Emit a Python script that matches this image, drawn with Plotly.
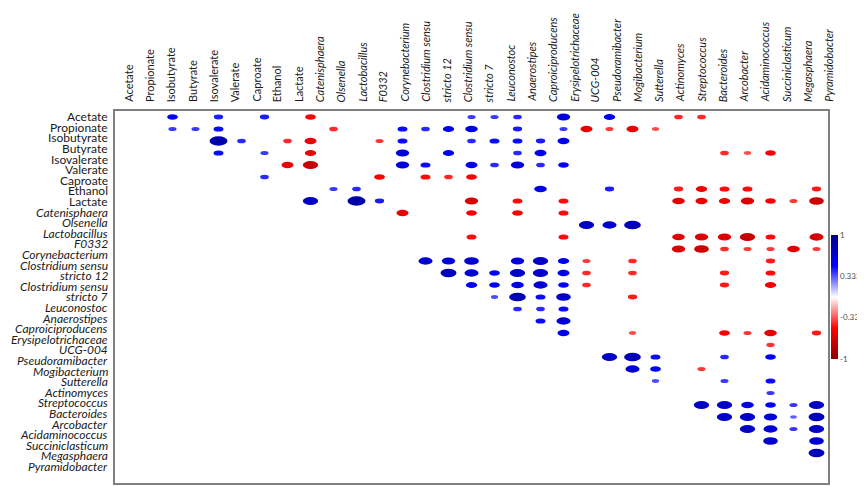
import plotly.graph_objects as go
from plotly.colors import sample_colorscale

# ---------------- data ----------------
variables = ["Acetate", "Propionate", "Isobutyrate", "Butyrate", "Isovalerate", "Valerate",
             "Caproate", "Ethanol", "Lactate", "Catenisphaera", "Olsenella", "Lactobacillus",
             "F0332", "Corynebacterium", "Clostridium sensu stricto 12",
             "Clostridium sensu stricto 7", "Leuconostoc", "Anaerostipes", "Caproiciproducens",
             "Erysipelotrichaceae UCG-004", "Pseudoramibacter", "Mogibacterium", "Sutterella",
             "Actinomyces", "Streptococcus", "Bacteroides", "Arcobacter", "Acidaminococcus",
             "Succiniclasticum", "Megasphaera", "Pyramidobacter"]

# axis labels as printed in the figure (split names occupy two slots)
axis_labels = ["Acetate", "Propionate", "Isobutyrate", "Butyrate", "Isovalerate", "Valerate",
               "Caproate", "Ethanol", "Lactate", "Catenisphaera", "Olsenella", "Lactobacillus",
               "F0332", "Corynebacterium", "Clostridium sensu", "stricto 12", "Clostridium sensu",
               "stricto 7", "Leuconostoc", "Anaerostipes", "Caproiciproducens",
               "Erysipelotrichaceae", "UCG-004", "Pseudoramibacter", "Mogibacterium",
               "Sutterella", "Actinomyces", "Streptococcus", "Bacteroides", "Arcobacter",
               "Acidaminococcus", "Succiniclasticum", "Megasphaera", "Pyramidobacter"]
n_plain_labels = 9  # metabolites are upright, taxa italic

# significant correlations: row variable index, column variable index, r
corr_row = ([0]*11 + [1]*14 + [2]*11 + [3]*10 + [4]*9 + [5]*5 + [6]*9 + [7]*13 + [8]*4 +
            [9]*3 + [10]*8 + [11]*7 + [12]*9 + [13]*10 + [14]*8 + [15]*5 + [16]*3 + [17]*2 +
            [18]*6 + [19]*1 + [20]*5 + [21]*3 + [22]*3 + [23]*1 + [24]*6 + [25]*5 + [26]*4 +
            [27]*2 + [28]*1)
corr_col = [2, 4, 6, 8, 15, 16, 17, 19, 21, 24, 25,
            2, 3, 4, 9, 12, 13, 14, 15, 17, 19, 20, 21, 22, 23,
            4, 5, 7, 8, 11, 12, 15, 16, 17, 18, 19,
            4, 6, 8, 12, 14, 17, 18, 26, 27, 28,
            7, 8, 12, 13, 15, 16, 17, 18, 19,
            6, 11, 13, 14, 15,
            9, 10, 18, 21, 24, 25, 26, 27, 30,
            8, 10, 11, 15, 17, 19, 24, 25, 26, 27, 28, 29, 30,
            12, 15, 17, 19,
            20, 21, 22,
            15, 19, 24, 25, 26, 27, 28, 30,
            24, 25, 26, 27, 28, 29, 30,
            13, 14, 15, 17, 18, 19, 20, 22, 28,
            14, 15, 16, 17, 18, 19, 20, 22, 26, 28,
            15, 16, 17, 18, 19, 20, 26, 28,
            16, 17, 18, 19, 22,
            17, 18, 19,
            18, 19,
            19, 22, 26, 27, 28, 30,
            28,
            21, 22, 23, 26, 28,
            22, 23, 25,
            23, 26, 28,
            28,
            25, 26, 27, 28, 29, 30,
            26, 27, 28, 29, 30,
            27, 28, 29, 30,
            28, 30,
            30]
corr_val = [0.52, 0.45, 0.45, -0.52, 0.39, 0.39, 0.42, 0.65, 0.55, -0.42, -0.42,
            0.39, 0.39, 0.48, -0.42, 0.48, 0.42, 0.55, 0.61, 0.45, 0.39, -0.58, -0.39, -0.58, -0.35,
            0.87, 0.42, -0.42, -0.58, -0.39, 0.48, 0.42, 0.48, 0.48, 0.45, 0.58,
            0.48, 0.39, -0.55, 0.65, 0.55, 0.42, 0.58, -0.42, -0.35, -0.52,
            -0.58, -0.74, 0.65, 0.48, 0.58, 0.42, 0.65, 0.42, 0.52,
            0.42, -0.52, -0.48, -0.42, -0.52,
            0.39, 0.42, 0.61, 0.45, -0.45, -0.55, -0.48, -0.48, -0.45,
            0.74, 0.87, 0.45, -0.65, -0.48, -0.48, -0.61, -0.58, -0.55, -0.65, -0.52, -0.39, -0.71,
            -0.58, -0.52, -0.52, -0.48,
            0.74, 0.68, 0.81,
            -0.48, -0.48, -0.61, -0.65, -0.65, -0.74, -0.48, -0.68,
            -0.65, -0.71, -0.42, -0.39, -0.39, -0.61, -0.39,
            0.68, 0.65, 0.71, 0.65, 0.74, 0.55, -0.39, -0.42, -0.45,
            0.77, 0.68, 0.52, 0.74, 0.74, 0.58, -0.42, -0.42, -0.45, -0.48,
            0.55, 0.52, 0.61, 0.68, 0.52, -0.42, -0.45, -0.55,
            0.35, 0.81, 0.48, 0.71, -0.45,
            0.42, 0.42, 0.48,
            0.48, 0.68,
            0.58, -0.35, -0.52, -0.39, -0.61, -0.45,
            -0.40,
            0.74, 0.81, 0.48, 0.42, 0.52,
            0.68, 0.52, -0.39,
            0.35, 0.39, 0.48,
            0.39,
            0.74, 0.74, 0.61, 0.52, 0.39, 0.74,
            0.74, 0.74, 0.65, 0.32, 0.77,
            0.74, 0.68, 0.39, 0.74,
            0.71, 0.71,
            0.77]

colorbar_ticks = [1, 0.333, -0.333, -1]

# ---------------- style / layout ----------------
OFF = 8                      # default page margin of the html body
PAGE_W, PAGE_H = 865, 486
W, H = PAGE_W - OFF, PAGE_H - OFF
# plot frame in page pixels
FX0, FX1, FY0, FY1 = 115, 828, 111, 483
L, T = FX0 - OFF, FY0 - OFF
R, B = W - (FX1 - OFF), H - (FY1 - OFF)
PW, PH = W - L - R, H - T - B


def px_x(page_x):
    return (page_x - FX0) / PW


def px_y(page_y):
    return (FY1 - page_y) / PH


colorscale = [[0.0, "rgb(139,0,0)"], [0.25, "rgb(255,0,0)"], [0.5, "rgb(255,255,255)"],
              [0.75, "rgb(0,0,255)"], [1.0, "rgb(0,0,139)"]]
FONT = "Lato"
TXT = "#1a1a1a"

fig = go.Figure()

# invisible carrier trace for the colour bar
fig.add_trace(go.Scatter(
    x=corr_col, y=corr_row, mode="markers", hoverinfo="skip", showlegend=False,
    marker=dict(size=0.1, opacity=0, color=corr_val, colorscale=colorscale, cmin=-1, cmax=1,
                showscale=True,
                colorbar=dict(x=px_x(831), xanchor="left", xpad=0,
                              y=px_y(297), yanchor="middle", ypad=0,
                              len=124, lenmode="pixels", thickness=7, outlinewidth=0,
                              tickvals=colorbar_ticks,
                              ticktext=[f"{t:g}" for t in colorbar_ticks],
                              ticks="",
                              tickfont=dict(family=FONT, size=8, color="#4d4d4d")))))

# ellipses (circles in a non-square cell) sized by |r|
shapes = []
colors = sample_colorscale(colorscale, [(v + 1) / 2 for v in corr_val])
for r_i, c_i, v, col in zip(corr_row, corr_col, corr_val, colors):
    h = abs(v) * 0.45
    shapes.append(dict(type="circle", xref="x", yref="y", x0=c_i - h, x1=c_i + h,
                       y0=r_i - h, y1=r_i + h, fillcolor=col, line=dict(width=0),
                       layer="above"))

annotations = []
n_lab = len(axis_labels)
for i, lab in enumerate(axis_labels):
    txt = lab if i < n_plain_labels else f"<i>{lab}</i>"
    # left labels
    annotations.append(dict(text=txt, xref="paper", yref="paper",
                            x=px_x(110), y=px_y(116.7 + i * 10.6),
                            xanchor="right", yanchor="middle", showarrow=False,
                            font=dict(family=FONT, size=12, color=TXT)))
    # top labels
    xpx = 128.3 + i * (828.3 - 128.3) / (n_lab - 1)
    annotations.append(dict(text=txt, xref="paper", yref="paper",
                            x=px_x(xpx), y=px_y(104),
                            xanchor="center", yanchor="bottom", textangle=-90,
                            showarrow=False,
                            font=dict(family=FONT, size=11, color=TXT)))

axis_common = dict(showgrid=False, zeroline=False, showticklabels=False, ticks="",
                   showline=True, mirror=True, linecolor="#7f7f7f", linewidth=1.5)
fig.update_layout(
    width=W, height=H, margin=dict(l=L, r=R, t=T, b=B, autoexpand=False),
    paper_bgcolor="white", plot_bgcolor="white",
    xaxis=dict(range=[-0.5, len(variables) - 0.5], **axis_common),
    yaxis=dict(range=[len(variables) - 0.5, -0.5], **axis_common),
    shapes=shapes, annotations=annotations, showlegend=False,
)

fig.write_html("out.html")
